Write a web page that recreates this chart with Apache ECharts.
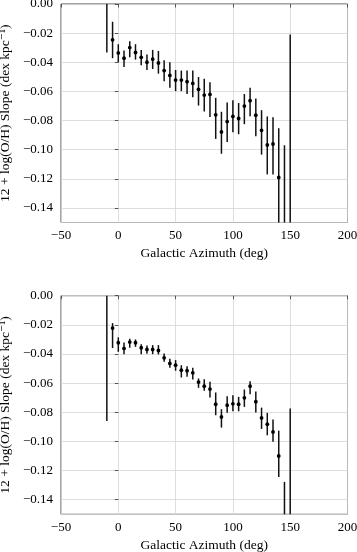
<!DOCTYPE html>
<html>
<head>
<meta charset="utf-8">
<script src="https://cdn.jsdelivr.net/npm/echarts@6/dist/echarts.min.js"></script>
<style>
  html, body { margin: 0; padding: 0; background: #fff; }
  #chart { width: 357px; height: 552px; }
</style>
</head>
<body>
<div id="chart"></div>
<script>
// azimuth bins (deg)
const azimuth = [-10, -5, 0, 5, 10, 15, 20, 25, 30, 35, 40, 45, 50, 55, 60, 65, 70,
  75, 80, 85, 90, 95, 100, 105, 110, 115, 120, 125, 130, 135, 140, 145, 150];

// upper panel: slope, lower and upper end of error bar
const slopeTop = [0.005, -0.0246, -0.0336, -0.0372, -0.0299, -0.0333, -0.0366, -0.0400, -0.0379,
  -0.0405, -0.0457, -0.0490, -0.0522, -0.0522, -0.0533, -0.0545, -0.0586, -0.0625, -0.0621,
  -0.0761, -0.0878, -0.0807, -0.0772, -0.0786, -0.0701, -0.0664, -0.0763, -0.0867, -0.0968,
  -0.0961, -0.1191, -0.16, -0.16];
const lowTop = [-0.0333, -0.0372, -0.0400, -0.0432, -0.0366, -0.0382, -0.0421, -0.0453, -0.0446,
  -0.0478, -0.0531, -0.0575, -0.0598, -0.0598, -0.0618, -0.0641, -0.0697, -0.0738, -0.0775,
  -0.0926, -0.1028, -0.0947, -0.0880, -0.0894, -0.0825, -0.0770, -0.0908, -0.1034, -0.1170,
  -0.1170, -0.1530, -0.2230, -0.2990];
const highTop = [0.043, -0.0122, -0.0276, -0.0320, -0.0255, -0.0276, -0.0315, -0.0347, -0.0315,
  -0.0322, -0.0386, -0.0400, -0.0453, -0.0457, -0.0457, -0.0457, -0.0501, -0.0513, -0.0538,
  -0.0644, -0.0740, -0.0676, -0.0660, -0.0680, -0.0618, -0.0575, -0.0648, -0.0729, -0.0772,
  -0.0777, -0.0853, -0.0970, -0.0209];

// lower panel
const slopeBot = [0.005, -0.0222, -0.0323, -0.0362, -0.0318, -0.0323, -0.0357, -0.0369, -0.0369,
  -0.0376, -0.0426, -0.0465, -0.0477, -0.0511, -0.0515, -0.0529, -0.0593, -0.0621, -0.0641,
  -0.0745, -0.0832, -0.0751, -0.0742, -0.0745, -0.0701, -0.0621, -0.0727, -0.0839, -0.0882,
  -0.0935, -0.1100, -0.19, -0.19];
const lowBot = [-0.0859, -0.0359, -0.0385, -0.0401, -0.0357, -0.0351, -0.0401, -0.0399, -0.0401,
  -0.0403, -0.0454, -0.0495, -0.0515, -0.0561, -0.0557, -0.0575, -0.0632, -0.0653, -0.0699,
  -0.0820, -0.0905, -0.0804, -0.0793, -0.0793, -0.0763, -0.0676, -0.0802, -0.0914, -0.0958,
  -0.1003, -0.1244, -0.2520, -0.3030];
const highBot = [0.096, -0.0188, -0.0286, -0.0321, -0.0296, -0.0300, -0.0334, -0.0341, -0.0339,
  -0.0339, -0.0396, -0.0433, -0.0442, -0.0477, -0.0484, -0.0495, -0.0568, -0.0573, -0.0591,
  -0.0664, -0.0779, -0.0690, -0.0683, -0.0694, -0.0644, -0.0587, -0.0658, -0.0768, -0.0804,
  -0.0850, -0.0926, -0.1278, -0.0774];

const FONT = '"Liberation Serif", "DejaVu Serif", serif';
const minus = s => s.replace('-', '\u2212');

function rows(ys, lo, hi) {
  return azimuth.map((x, i) => [x, ys[i], lo[i], hi[i]]);
}

// error bar + dot, clamped to the plot box
function renderErr(params, api) {
  const cs = params.coordSys;
  const top = cs.y, bot = cs.y + cs.height;
  const p = api.coord([api.value(0), api.value(1)]);
  const a = api.coord([api.value(0), api.value(3)]);
  const b = api.coord([api.value(0), api.value(2)]);
  const y1 = Math.max(top, Math.min(bot, a[1]));
  const y2 = Math.max(top, Math.min(bot, b[1]));
  const children = [];
  if (y2 > y1) {
    children.push({
      type: 'line',
      shape: { x1: p[0], y1: y1, x2: p[0], y2: y2 },
      style: { stroke: '#111', lineWidth: 1.5 }
    });
  }
  if (p[1] >= top && p[1] <= bot) {
    children.push({
      type: 'circle',
      shape: { cx: p[0], cy: p[1], r: 1.9 },
      style: { fill: '#000' }
    });
  }
  return { type: 'group', children: children };
}

function xAxisFor(idx) {
  return {
    type: 'value', gridIndex: idx, min: -50, max: 200, interval: 50,
    name: 'Galactic Azimuth (deg)', nameLocation: 'middle', nameGap: 24,
    nameTextStyle: { fontFamily: FONT, fontSize: 13.5, color: '#000' },
    axisLine: { show: false },
    axisTick: { show: true, inside: false, length: 3.5, lineStyle: { color: '#333', width: 0.8 } },
    axisLabel: { margin: 7, fontFamily: FONT, fontSize: 13, color: '#000',
      formatter: v => minus(String(v)) },
    splitLine: { show: true, lineStyle: { color: '#d6d6d6', width: 0.8 } }
  };
}

function yAxisFor(idx) {
  return {
    type: 'value', gridIndex: idx, min: -0.15, max: 0, splitNumber: 7,
    name: '12 + log(O/H) Slope (dex kpc\u207B\u00B9)',
    nameLocation: 'middle', nameGap: 45,
    nameTextStyle: { fontFamily: FONT, fontSize: 13.5, color: '#000' },
    axisLine: { show: false },
    axisTick: { show: true, inside: false, length: 3.5, lineStyle: { color: '#333', width: 0.8 } },
    axisLabel: { margin: 8, showMinLabel: false, fontFamily: FONT, fontSize: 13, color: '#000',
      formatter: v => minus(v.toFixed(2)) },
    splitLine: { show: true, lineStyle: { color: '#d6d6d6', width: 0.8 } }
  };
}

const chart = echarts.init(document.getElementById('chart'), null, { renderer: 'canvas' });
chart.setOption({
  animation: false,
  backgroundColor: '#fff',
  grid: [
    { left: 61, top: 4, width: 286.5, height: 218.5, outerBoundsMode: 'none', containLabel: false,
      show: true, borderColor: '#333', borderWidth: 0.9, backgroundColor: 'transparent' },
    { left: 61, top: 295.7, width: 286.5, height: 218.6, outerBoundsMode: 'none', containLabel: false,
      show: true, borderColor: '#333', borderWidth: 0.9, backgroundColor: 'transparent' }
  ],
  xAxis: [xAxisFor(0), xAxisFor(1)],
  yAxis: [yAxisFor(0), yAxisFor(1)],
  series: [
    { type: 'custom', xAxisIndex: 0, yAxisIndex: 0, renderItem: renderErr, data: rows(slopeTop, lowTop, highTop), z: 5 },
    { type: 'custom', xAxisIndex: 1, yAxisIndex: 1, renderItem: renderErr, data: rows(slopeBot, lowBot, highBot), z: 5 }
  ]
});
</script>
</body>
</html>
